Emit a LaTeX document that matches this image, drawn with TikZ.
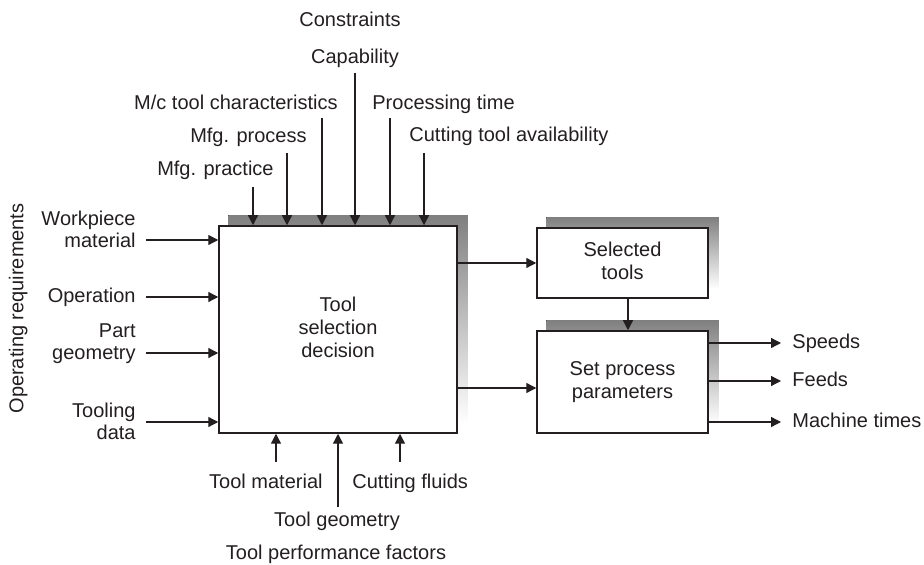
\documentclass[tikz,border=0pt]{standalone}
\usepackage{fontspec}
\setmainfont{Liberation Sans}
\usetikzlibrary{arrows.meta,backgrounds}
\definecolor{ink}{RGB}{35,31,32}
\definecolor{shade}{RGB}{147,149,152}
\begin{document}
\begin{tikzpicture}[x=0.5pt,y=-0.5pt,
  every node/.style={inner sep=0pt, font=\fontsize{10}{11}\selectfont, text=ink},
  box/.style={draw=ink, line width=0.75pt, fill=white, align=center, font=\fontsize{10}{11.5}\selectfont},
  arr/.style={draw=ink, line width=0.65pt, -{Triangle[length=5pt,width=5pt]}},
  lbl/.style={align=right}
]
\useasboundingbox (0,0) rectangle (924,565);

% boxes
\node[box, minimum width=119pt, minimum height=103.5pt] (main) at (338,329.5) {Tool\strut\\selection\strut\\decision\strut};
\node[box, minimum width=85.5pt, minimum height=35pt] (sel) at (622.5,263) {Selected\strut\\tools\strut};
\node[box, minimum width=85.5pt, minimum height=51pt] (set) at (622.5,382) {Set process\strut\\parameters\strut};

% shadows
\begin{scope}[on background layer]
  \foreach \b in {main,sel,set}
    \fill[shade] ([shift={(10,-10)}]\b.south west) rectangle ([shift={(10,-10)}]\b.north east);
\end{scope}

% left inputs
\node[lbl, anchor=east] (l1) at (136,232) {Workpiece\strut\\material\strut};
\node[anchor=mid east] (l2) at (136,297) {Operation};
\node[lbl, anchor=east] (l3) at (136,344) {Part\strut\\geometry\strut};
\node[lbl, anchor=east] (l4) at (136,424) {Tooling\strut\\data\strut};
\foreach \y/\n in {240/i1, 297/i2, 353/i3, 422/i4} {
  \coordinate (\n) at (146,\y);
  \draw[arr] (\n) -- (\n -| main.west);
}
\node[rotate=90, anchor=mid] (opreq) at (18,308.5) {Operating requirements};

% top inputs
\node[anchor=mid] (c1) at (350,21) {Constraints};
\node[anchor=mid] (c2) at (355,58) {Capability};
\node[anchor=mid east] (c3) at (338,104) {M/c tool characteristics};
\node[anchor=mid west] (c4) at (372,104) {Processing time};
\node[anchor=mid east] (c5) at (307,137) {Mfg. process};
\node[anchor=mid west] (c6) at (409,136) {Cutting tool availability};
\node[anchor=mid east] (c7) at (274,170) {Mfg. practice};
\foreach \x/\y/\n in {253/187/t1, 287/153/t2, 322/118/t3, 355/73/t4, 390/118/t5, 424/153/t6} {
  \coordinate (\n) at (\x,\y);
  \draw[arr] (\n) -- (\n |- main.north);
}

% bottom inputs
\node[anchor=mid east] (m1) at (323,483) {Tool material};
\node[anchor=mid west] (m2) at (352,483) {Cutting fluids};
\node[anchor=mid] (m3) at (337,521) {Tool geometry};
\node[anchor=mid] (m4) at (336,554) {Tool performance factors};
\foreach \x/\y/\n in {276/462/b1, 338/507/b2, 400/462/b3} {
  \coordinate (\n) at (\x,\y);
  \draw[arr] (\n) -- (\n |- main.south);
}

% internal flow
\draw[arr] (main.east |- sel.west) -- (sel.west);
\draw[arr] (main.east |- 0,388) -- (set.west |- 0,388);
\draw[arr] ([xshift=2.75pt]sel.south) -- ([xshift=2.75pt]set.north);

% outputs
\foreach \y/\t/\n in {343/Speeds/o1, 381/Feeds/o2, 422/Machine times/o3} {
  \node[anchor=mid west] (\n) at (792,\y) {\t};
  \draw[arr] (set.east |- \n.mid west) -- ([xshift=-5.5pt]\n.mid west);
}
\end{tikzpicture}
\end{document}
